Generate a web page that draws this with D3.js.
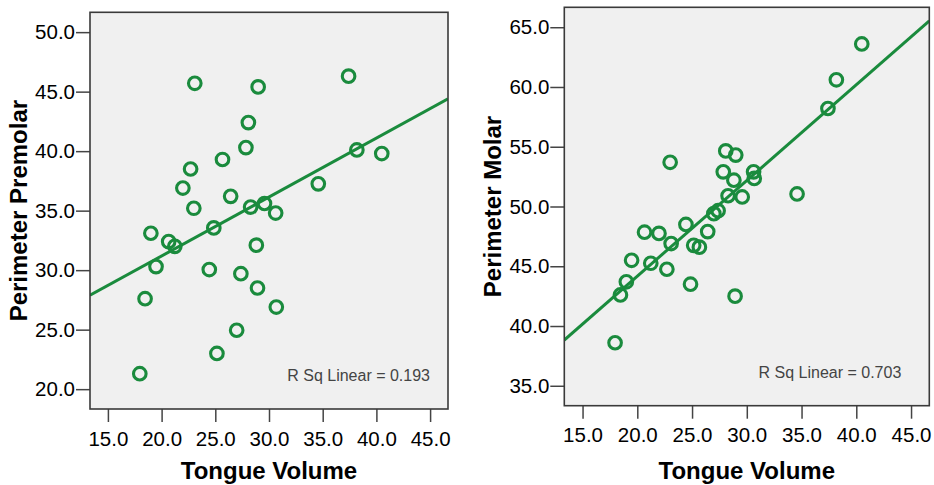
<!DOCTYPE html>
<html>
<head>
<meta charset="utf-8">
<script src="https://cdn.jsdelivr.net/npm/d3@7"></script>
<style>
    body { margin: 0; background: #fff; }
    text { font-family: "Liberation Sans", Arial, sans-serif; }
</style>
</head>
<body>
<svg id="svg-scatter"></svg>
<script>
// data (same 30 subjects in both panels)
var tongueVolume = [17.97, 18.46, 19.0, 19.48, 20.66, 21.23, 21.98, 22.7, 23.0, 23.09,
    24.44, 24.86, 25.15, 25.67, 26.43, 26.99, 27.38, 27.85, 28.08, 28.29,
    28.82, 28.93, 28.99, 29.58, 30.62, 30.68, 34.59, 37.41, 38.18, 40.5];
var perimeterPremolar = [21.3, 27.6, 33.1, 30.3, 32.4, 32.0, 36.9, 38.5, 35.2, 45.7,
    30.05, 33.55, 23.0, 39.3, 36.2, 24.95, 29.7, 40.3, 42.4, 35.3,
    32.1, 28.5, 45.4, 35.6, 34.8, 26.9, 37.25, 46.3, 40.1, 39.8];
var perimeterMolar = [38.6, 42.6, 43.7, 45.5, 47.85, 45.25, 47.75, 44.75, 53.7, 46.9,
    48.5, 43.5, 46.75, 46.6, 47.9, 49.4, 49.65, 52.9, 54.65, 50.9,
    52.2, 42.5, 54.3, 50.8, 52.9, 52.35, 51.05, 58.2, 60.6, 63.6];

// fit lines as drawn: [intercept, slope]
var premolarFit = [21.29, 0.495];
var molarFit = [28.15, 0.801];
var rSquared = ["0.193", "0.703"];

var xTicks = [15, 20, 25, 30, 35, 40, 45];
var premolarTicks = [20, 25, 30, 35, 40, 45, 50];
var molarTicks = [35, 40, 45, 50, 55, 60, 65];

var w = 934;
var h = 485;
var green = "#1a8b3d";

var svg = d3.select("#svg-scatter")
    .attr("width", w)
    .attr("height", h);

function panel(opt) {
    var x = d3.scaleLinear().domain([13.333, 46.667]).range([opt.left, opt.right]);
    var y = d3.scaleLinear().domain(opt.yDomain).range([opt.bottom, opt.top]);
    var g = svg.append("g");

    // plot frame background
    g.append("rect")
        .attr("x", opt.left)
        .attr("y", opt.top)
        .attr("width", opt.right - opt.left)
        .attr("height", opt.bottom - opt.top)
        .attr("fill", "#f0f0f0");

    var xAxis = g.append("g")
        .attr("transform", "translate(0," + opt.bottom + ")")
        .call(d3.axisBottom(x).tickValues(xTicks).tickFormat(d3.format(".1f"))
            .tickSize(13).tickPadding(9));
    var yAxis = g.append("g")
        .attr("transform", "translate(" + opt.left + ",0)")
        .call(d3.axisLeft(y).tickValues(opt.yTicks).tickFormat(d3.format(".1f"))
            .tickSize(14).tickPadding(1));
    [xAxis, yAxis].forEach(function (a) {
        a.select(".domain").remove();
        a.selectAll(".tick line").attr("stroke", "#444").attr("stroke-width", 1.5);
        a.selectAll(".tick text")
            .attr("fill", "#000")
            .style("font-size", "20.5px");
    });

    // fit line, clipped to the frame
    var clipId = "clip" + Math.round(opt.left);
    g.append("clipPath").attr("id", clipId)
        .append("rect")
        .attr("x", opt.left)
        .attr("y", opt.top)
        .attr("width", opt.right - opt.left)
        .attr("height", opt.bottom - opt.top);
    var xd = x.domain();
    g.append("line")
        .attr("clip-path", "url(#" + clipId + ")")
        .attr("x1", x(xd[0]))
        .attr("y1", y(opt.fit[0] + opt.fit[1] * xd[0]))
        .attr("x2", x(xd[1]))
        .attr("y2", y(opt.fit[0] + opt.fit[1] * xd[1]))
        .attr("stroke", green)
        .attr("stroke-width", 3);

    // points
    g.selectAll("circle")
        .data(opt.values)
        .enter()
        .append("circle")
        .attr("cx", function (d, i) { return x(tongueVolume[i]); })
        .attr("cy", function (d) { return y(d); })
        .attr("r", 6.3)
        .attr("fill", "none")
        .attr("stroke", green)
        .attr("stroke-width", 3.1);

    // frame border
    g.append("rect")
        .attr("x", opt.left)
        .attr("y", opt.top)
        .attr("width", opt.right - opt.left)
        .attr("height", opt.bottom - opt.top)
        .attr("fill", "none")
        .attr("stroke", "#3a3a3a")
        .attr("stroke-width", 1.6);

    // R sq label
    g.append("text")
        .text("R Sq Linear = " + opt.r2)
        .attr("x", opt.right - opt.r2Inset)
        .attr("y", opt.bottom - 28)
        .attr("text-anchor", "end")
        .style("font-size", "16px")
        .attr("fill", "#444");

    // axis titles
    g.append("text")
        .text("Tongue Volume")
        .attr("x", (opt.left + opt.right) / 2)
        .attr("y", 479)
        .attr("text-anchor", "middle")
        .style("font-size", "24px")
        .style("font-weight", "bold")
        .attr("fill", "#000");
    g.append("text")
        .text(opt.yTitle)
        .attr("transform", "translate(" + (opt.left - 63) + "," + ((opt.top + opt.bottom) / 2) + ") rotate(-90)")
        .attr("text-anchor", "middle")
        .style("font-size", "24px")
        .style("font-weight", "bold")
        .attr("fill", "#000");
}

panel({
    left: 90, right: 448, top: 12.3, bottom: 409,
    yDomain: [18.333, 51.667], yTicks: premolarTicks,
    values: perimeterPremolar, fit: premolarFit, r2: rSquared[0], r2Inset: 18,
    yTitle: "Perimeter Premolar"
});

panel({
    left: 564.3, right: 929.3, top: 7.3, bottom: 405.7,
    yDomain: [33.333, 66.667], yTicks: molarTicks,
    values: perimeterMolar, fit: molarFit, r2: rSquared[1], r2Inset: 28,
    yTitle: "Perimeter Molar"
});
</script>
</body>
</html>
